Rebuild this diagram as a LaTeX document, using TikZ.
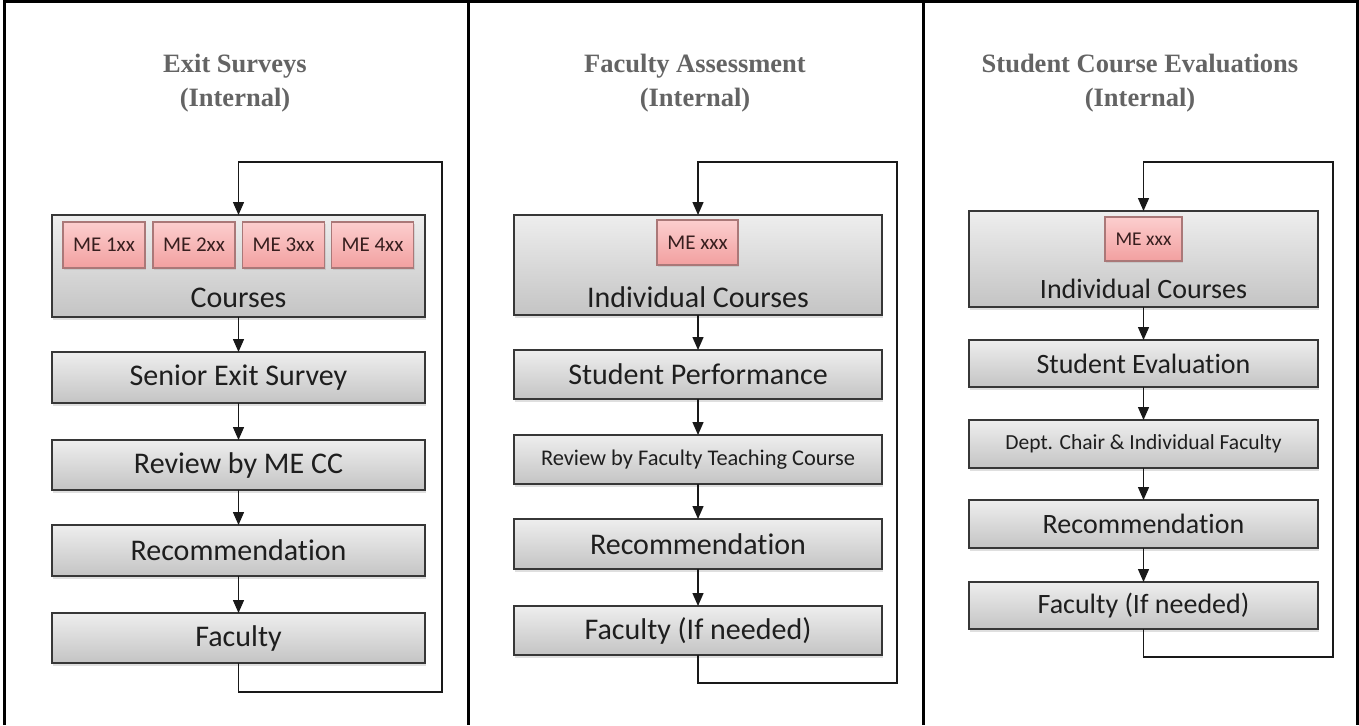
\documentclass[tikz,border=0pt]{standalone}
\usepackage{fontspec}
\setmainfont{Liberation Serif}
\newfontfamily\boxfont[Ligatures=NoCommon]{Carlito}
\usetikzlibrary{arrows.meta,shadows}
\definecolor{titlegray}{RGB}{100,100,100}
\definecolor{boxedge}{RGB}{55,55,55}
\definecolor{boxtop}{RGB}{238,238,238}
\definecolor{boxbot}{RGB}{196,196,196}
\definecolor{pinktop}{RGB}{252,206,206}
\definecolor{pinkbot}{RGB}{242,160,160}
\definecolor{pinkedge}{RGB}{170,120,120}
\definecolor{metext}{RGB}{55,30,30}
\definecolor{boxtext}{RGB}{30,30,30}
\tikzset{
  stepbox/.style={rectangle, draw=boxedge, line width=1.8pt, top color=boxtop, bottom color=boxbot,
    drop shadow={shadow xshift=1pt, shadow yshift=-2.5pt, opacity=0.25}, inner sep=0pt, outer sep=0pt,
    text=boxtext, font=\boxfont},
  mebox/.style={rectangle, draw=pinkedge, line width=1.2pt, top color=pinktop, bottom color=pinkbot,
    drop shadow={shadow xshift=1pt, shadow yshift=-1.5pt, opacity=0.2}, inner sep=0pt, outer sep=0pt,
    text=metext, font=\boxfont},
  boxlabel/.style={inner sep=0pt, text=boxtext, font=\boxfont},
  titletext/.style={inner sep=0pt, anchor=base, text=titlegray, font=\bfseries\fontsize{26.5}{32}\selectfont},
  arr/.style={draw=black!90, line width=1.4pt, -{Triangle[width=11pt,length=13pt]}},
  frame/.style={line width=3pt, black}
}
\begin{document}
\begin{tikzpicture}[x=1pt,y=-1pt]
\useasboundingbox (0,0) rectangle (1359,725);
% table frame
\draw[frame] (4.5,725) -- (4.5,1.5) -- (1357.5,1.5) -- (1357.5,725);
\draw[frame] (468,1.5) -- (468,725);
\draw[frame] (923,1.5) -- (923,725);

% ---------- Column 1 ----------
\node[titletext] (h1a) at (235,72) {Exit Surveys};
\node[titletext] (h1b) at (235,106) {(Internal)};
\node[stepbox, minimum width=373, minimum height=102] (c1) at (238.5,266) {};
\node[mebox, minimum width=82, minimum height=46, font=\boxfont\fontsize{21}{24}\selectfont] (m11) at (104,245) {ME 1xx};
\node[mebox, minimum width=82, minimum height=46, font=\boxfont\fontsize{21}{24}\selectfont] (m12) at (194,245) {ME 2xx};
\node[mebox, minimum width=82, minimum height=46, font=\boxfont\fontsize{21}{24}\selectfont] (m13) at (283.5,245) {ME 3xx};
\node[mebox, minimum width=82, minimum height=46, font=\boxfont\fontsize{21}{24}\selectfont] (m14) at (372.5,245) {ME 4xx};
\node[boxlabel, font=\boxfont\fontsize{30}{36}\selectfont] (c1t) at (238.5,298) {Courses};
\node[stepbox, minimum width=373, minimum height=51, font=\boxfont\fontsize{30}{36}\selectfont] (s1) at (238.5,377.5) {Senior Exit Survey};
\node[stepbox, minimum width=373, minimum height=50, font=\boxfont\fontsize{30}{36}\selectfont] (r1) at (238.5,465) {Review by ME CC};
\node[stepbox, minimum width=373, minimum height=51, font=\boxfont\fontsize{30}{36}\selectfont] (e1) at (238.5,550.5) {Recommendation};
\node[stepbox, minimum width=373, minimum height=50, font=\boxfont\fontsize{30}{36}\selectfont] (f1) at (238.5,638) {Faculty};
\coordinate (b1) at (442,692);
\coordinate (t1) at (442,162);
\draw[arr] (c1.south) -- (s1.north);
\draw[arr] (s1.south) -- (r1.north);
\draw[arr] (r1.south) -- (e1.north);
\draw[arr] (e1.south) -- (f1.north);
\draw[arr] (f1.south) |- (b1) -- (t1) -| (c1.north);

% ---------- Column 2 ----------
\node[titletext] (h2a) at (695,72) {Faculty Assessment};
\node[titletext] (h2b) at (695,106) {(Internal)};
\node[stepbox, minimum width=368, minimum height=100] (c2) at (698,265) {};
\node[mebox, minimum width=81, minimum height=45, font=\boxfont\fontsize{21}{24}\selectfont] (m2) at (697.5,242.5) {ME xxx};
\node[boxlabel, font=\boxfont\fontsize{30}{36}\selectfont] (c2t) at (698,297) {Individual Courses};
\node[stepbox, minimum width=368, minimum height=49, font=\boxfont\fontsize{30}{36}\selectfont] (s2) at (698,374.5) {Student Performance};
\node[stepbox, minimum width=368, minimum height=49, font=\boxfont\fontsize{22.4}{26}\selectfont] (r2) at (698,459.5) {Review by Faculty Teaching Course};
\node[stepbox, minimum width=368, minimum height=50, font=\boxfont\fontsize{30}{36}\selectfont] (e2) at (698,544) {Recommendation};
\node[stepbox, minimum width=368, minimum height=49, font=\boxfont\fontsize{30}{36}\selectfont] (f2) at (698,630.5) {Faculty (If needed)};
\coordinate (b2) at (897,683);
\coordinate (t2) at (897,162);
\draw[arr] (c2.south) -- (s2.north);
\draw[arr] (s2.south) -- (r2.north);
\draw[arr] (r2.south) -- (e2.north);
\draw[arr] (e2.south) -- (f2.north);
\draw[arr] (f2.south) |- (b2) -- (t2) -| (c2.north);

% ---------- Column 3 ----------
\node[titletext] (h3a) at (1140,72) {Student Course Evaluations};
\node[titletext] (h3b) at (1140,106) {(Internal)};
\node[stepbox, minimum width=349, minimum height=96] (c3) at (1143.5,259) {};
\node[mebox, minimum width=77, minimum height=44, font=\boxfont\fontsize{19.5}{23}\selectfont] (m3) at (1143.5,239) {ME xxx};
\node[boxlabel, font=\boxfont\fontsize{28}{34}\selectfont] (c3t) at (1143.5,289) {Individual Courses};
\node[stepbox, minimum width=349, minimum height=47, font=\boxfont\fontsize{28}{34}\selectfont] (s3) at (1143.5,363.5) {Student Evaluation};
\node[stepbox, minimum width=349, minimum height=48, font=\boxfont\fontsize{21.5}{26}\selectfont] (r3) at (1143.5,444) {Dept. Chair \& Individual Faculty};
\node[stepbox, minimum width=349, minimum height=48, font=\boxfont\fontsize{28}{34}\selectfont] (e3) at (1143.5,524) {Recommendation};
\node[stepbox, minimum width=349, minimum height=47, font=\boxfont\fontsize{28}{34}\selectfont] (f3) at (1143.5,605.5) {Faculty (If needed)};
\coordinate (b3) at (1333,657);
\coordinate (t3) at (1333,162);
\draw[arr] (c3.south) -- (s3.north);
\draw[arr] (s3.south) -- (r3.north);
\draw[arr] (r3.south) -- (e3.north);
\draw[arr] (e3.south) -- (f3.north);
\draw[arr] (f3.south) |- (b3) -- (t3) -| (c3.north);
\end{tikzpicture}
\end{document}
